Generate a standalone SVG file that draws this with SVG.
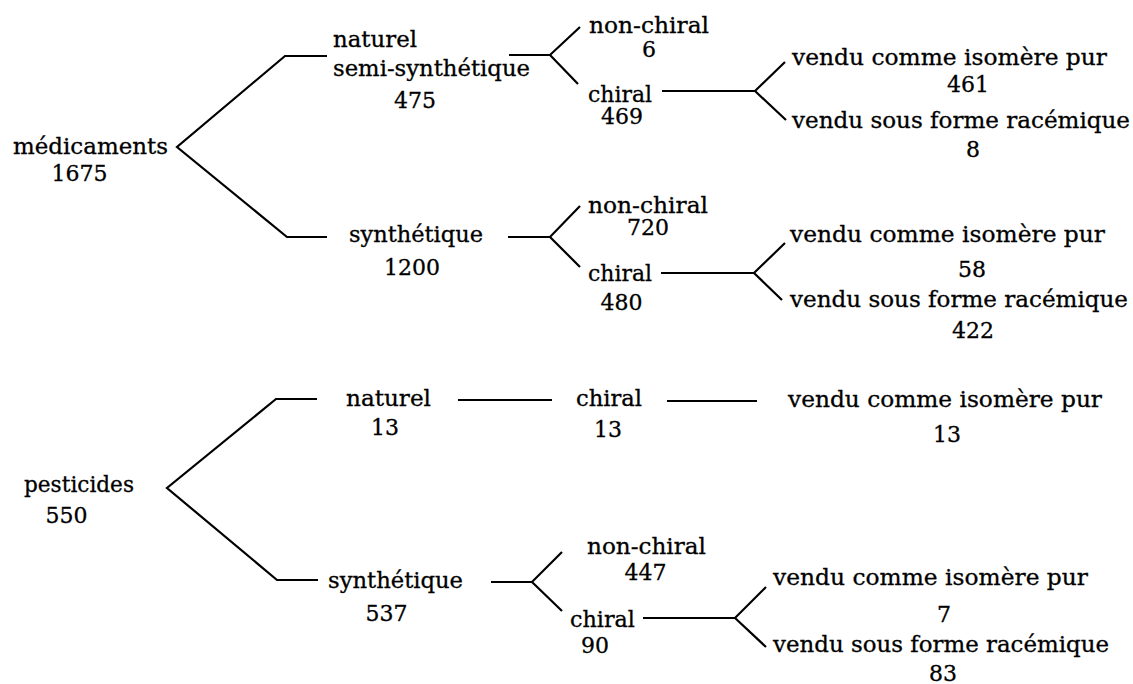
<svg xmlns="http://www.w3.org/2000/svg" width="1133" height="684" viewBox="0 0 1133 684">
<style>
text{font-family:"DejaVu Serif","Liberation Serif",serif;font-size:22px;fill:#000;stroke:#000;stroke-width:0.3}
.m{text-anchor:middle}
.c path{fill:none;stroke:#000;stroke-width:2.2;stroke-linejoin:miter}
</style>
<rect width="1133" height="684" fill="#fff"/>
<g class="c" id="connectors">
<path d="M327,56 H285 L177,147 L287,237 H327"/>
<path d="M509,55 H550 L580,27 M550,55 L578,84"/>
<path d="M508,237 H550 L580,206 M550,237 L580,267"/>
<path d="M662,91 H755 L785,62 M755,91 L786,120"/>
<path d="M661,273 H754 L785,243 M754,273 L782,300"/>
<path d="M317,399 H276 L167,488 L277,580 H318"/>
<path d="M458,400 H552"/>
<path d="M667,401 H757"/>
<path d="M491,582 H532 L562,552 M532,582 L562,611"/>
<path d="M643,618 H735 L766,587 M735,618 L766,647"/>
</g>
<g id="medicaments"><text x="13" y="154" textLength="155" lengthAdjust="spacingAndGlyphs">médicaments</text><text class="m" x="79.5" y="181">1675</text></g>
<g id="med-naturel"><text x="333" y="47" textLength="84" lengthAdjust="spacingAndGlyphs">naturel</text><text x="333" y="76" textLength="197" lengthAdjust="spacingAndGlyphs">semi-synthétique</text><text class="m" x="415" y="108">475</text></g>
<g id="med-synthetique"><text x="349" y="242" textLength="134" lengthAdjust="spacingAndGlyphs">synthétique</text><text class="m" x="412" y="275">1200</text></g>
<g id="med-nat-nonchiral"><text x="589" y="33" textLength="120" lengthAdjust="spacingAndGlyphs">non-chiral</text><text class="m" x="649" y="57">6</text></g>
<g id="med-nat-chiral"><text x="588" y="102" textLength="64" lengthAdjust="spacingAndGlyphs">chiral</text><text class="m" x="622" y="124">469</text></g>
<g id="med-nat-pur"><text x="792" y="65" textLength="315" lengthAdjust="spacingAndGlyphs">vendu comme isomère pur</text><text class="m" x="968" y="92">461</text></g>
<g id="med-nat-rac"><text x="792" y="128" textLength="338" lengthAdjust="spacingAndGlyphs">vendu sous forme racémique</text><text class="m" x="973" y="157">8</text></g>
<g id="med-syn-nonchiral"><text x="588" y="213" textLength="120" lengthAdjust="spacingAndGlyphs">non-chiral</text><text class="m" x="648" y="235">720</text></g>
<g id="med-syn-chiral"><text x="588" y="281" textLength="64" lengthAdjust="spacingAndGlyphs">chiral</text><text class="m" x="621.5" y="310">480</text></g>
<g id="med-syn-pur"><text x="790" y="242" textLength="315" lengthAdjust="spacingAndGlyphs">vendu comme isomère pur</text><text class="m" x="972" y="277">58</text></g>
<g id="med-syn-rac"><text x="790" y="307" textLength="338" lengthAdjust="spacingAndGlyphs">vendu sous forme racémique</text><text class="m" x="973" y="338">422</text></g>
<g id="pesticides"><text x="24" y="492" textLength="110" lengthAdjust="spacingAndGlyphs">pesticides</text><text class="m" x="66.5" y="523">550</text></g>
<g id="pest-naturel"><text x="346" y="406" textLength="85" lengthAdjust="spacingAndGlyphs">naturel</text><text class="m" x="385" y="435">13</text></g>
<g id="pest-nat-chiral"><text x="576" y="406" textLength="66" lengthAdjust="spacingAndGlyphs">chiral</text><text class="m" x="608" y="437">13</text></g>
<g id="pest-nat-pur"><text x="788" y="407" textLength="314" lengthAdjust="spacingAndGlyphs">vendu comme isomère pur</text><text class="m" x="947" y="442">13</text></g>
<g id="pest-synthetique"><text x="328" y="588" textLength="135" lengthAdjust="spacingAndGlyphs">synthétique</text><text class="m" x="386.5" y="621">537</text></g>
<g id="pest-syn-nonchiral"><text x="587" y="554" textLength="119" lengthAdjust="spacingAndGlyphs">non-chiral</text><text class="m" x="645.5" y="580">447</text></g>
<g id="pest-syn-chiral"><text x="570" y="627" textLength="65" lengthAdjust="spacingAndGlyphs">chiral</text><text class="m" x="595" y="653">90</text></g>
<g id="pest-syn-pur"><text x="773" y="585" textLength="315" lengthAdjust="spacingAndGlyphs">vendu comme isomère pur</text><text class="m" x="944" y="622">7</text></g>
<g id="pest-syn-rac"><text x="773" y="652" textLength="336" lengthAdjust="spacingAndGlyphs">vendu sous forme racémique</text><text class="m" x="943" y="681">83</text></g>
</svg>
